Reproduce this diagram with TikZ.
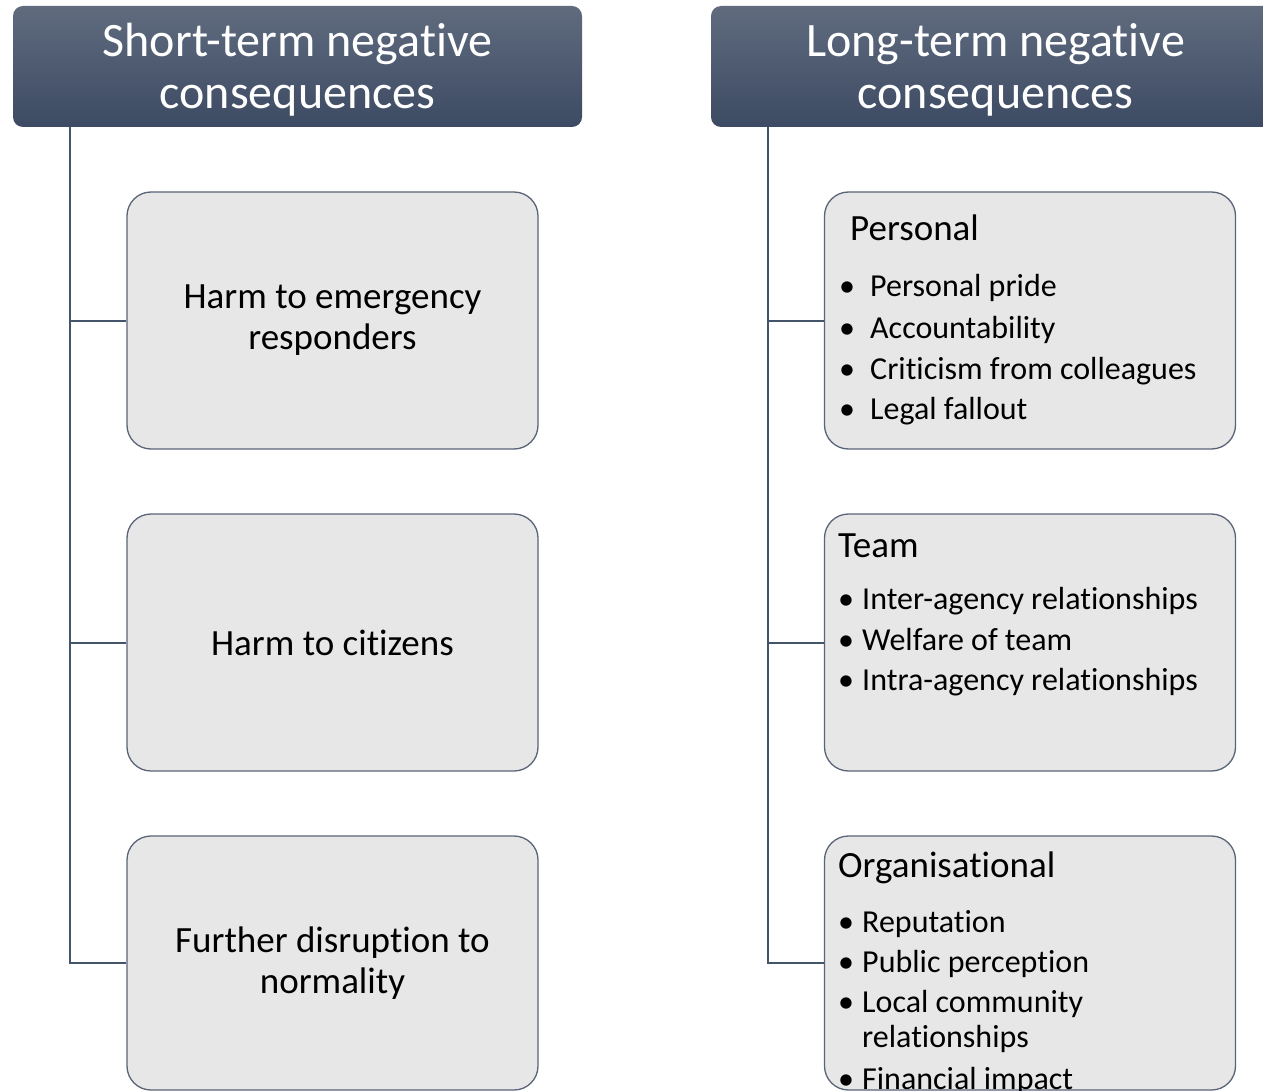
\documentclass[tikz,border=0pt]{standalone}
\usepackage{fontspec}
\setmainfont{Carlito}[Ligatures=NoCommon]
\definecolor{hdrtop}{HTML}{606B7E}
\definecolor{hdrbot}{HTML}{3C4A63}
\definecolor{boxfill}{HTML}{E7E7E7}
\definecolor{boxline}{HTML}{5A6478}
\definecolor{linecol}{HTML}{44546A}
\begin{document}
\begin{tikzpicture}[x=1pt,y=-1pt,
  hdr/.style={rounded corners=10pt, top color=hdrtop, bottom color=hdrbot, draw=none, minimum width=569pt, minimum height=121pt, inner sep=0pt},
  hdrtxt/.style={text=white, font=\fontsize{48}{52}\selectfont, inner sep=0pt, anchor=base},
  box/.style={rounded corners=24pt, fill=boxfill, draw=boxline, line width=1.3pt, minimum width=411pt, minimum height=257pt, inner sep=0pt, font=\fontsize{37}{41}\selectfont, align=center},
  head/.style={font=\fontsize{37}{41}\selectfont, inner sep=0pt, anchor=base west},
  itm/.style={font=\fontsize{32}{35}\selectfont, inner sep=0pt, anchor=base west},
  dot/.style={font=\fontsize{32}{35}\selectfont, inner sep=0pt, anchor=base},
  link/.style={draw=linecol, line width=2pt}
]
\clip (0,0) rectangle (1263,1091);
\useasboundingbox (0,0) rectangle (1263,1091);
\fill[white] (0,0) rectangle (1263,1091);

% headers
\node[hdr] (hL) at (297.5,66.5) {};
\node[hdr] (hR) at (995.5,66.5) {};
\node[hdrtxt] (hL1) at (297.5,57) {Short-term negative};
\node[hdrtxt] (hL2) at (297.5,109) {consequences};
\node[hdrtxt] (hR1) at (995.5,57) {Long-term negative};
\node[hdrtxt] (hR2) at (995.5,109) {consequences};

% left boxes
\node[box] (b1) at (332.5,320.5) {Harm to emergency\\responders};
\node[box] (b2) at (332.5,642.5) {Harm to citizens};
\node[box, minimum height=254pt] (b3) at (332.5,963) {Further disruption to\\normality};

% right boxes
\node[box] (p) at (1030,320.5) {};
\node[box] (t) at (1030,642.5) {};
\node[box, minimum height=254pt] (o) at (1030,963) {};

% connectors
\coordinate (lroot) at (70,127);
\coordinate (rroot) at (768,127);
\draw[link] (lroot) |- (b1.west);
\draw[link] (lroot) |- (b2.west);
\draw[link] (lroot) |- (b3.west);
\draw[link] (rroot) |- (p.west);
\draw[link] (rroot) |- (t.west);
\draw[link] (rroot) |- (o.west);

% Personal
\node[head] (ph) at (850,241) {Personal};
\node[dot] (pd1) at (847,297) {•};
\node[itm] (pi1) at (870,297) {Personal pride};
\node[dot] (pd2) at (847,338) {•};
\node[itm] (pi2) at (870,338) {Accountability};
\node[dot] (pd3) at (847,379) {•};
\node[itm] (pi3) at (870,379) {Criticism from colleagues};
\node[dot] (pd4) at (847,419) {•};
\node[itm] (pi4) at (870,419) {Legal fallout};

% Team
\node[head] (th) at (838,557) {Team};
\node[dot] (td1) at (846,609) {•};
\node[itm] (ti1) at (862,609) {Inter-agency relationships};
\node[dot] (td2) at (846,650) {•};
\node[itm] (ti2) at (862,650) {Welfare of team};
\node[dot] (td3) at (846,690) {•};
\node[itm] (ti3) at (862,690) {Intra-agency relationships};

% Organisational
\node[head] (oh) at (838,877) {Organisational};
\node[dot] (od1) at (846,932) {•};
\node[itm] (oi1) at (862,932) {Reputation};
\node[dot] (od2) at (846,972) {•};
\node[itm] (oi2) at (862,972) {Public perception};
\node[dot] (od3) at (846,1012) {•};
\node[itm] (oi3) at (862,1012) {Local community};
\node[itm] (oi3b) at (862,1047) {relationships};
\node[dot] (od4) at (846,1089) {•};
\node[itm] (oi4) at (862,1089) {Financial impact};
\end{tikzpicture}
\end{document}
